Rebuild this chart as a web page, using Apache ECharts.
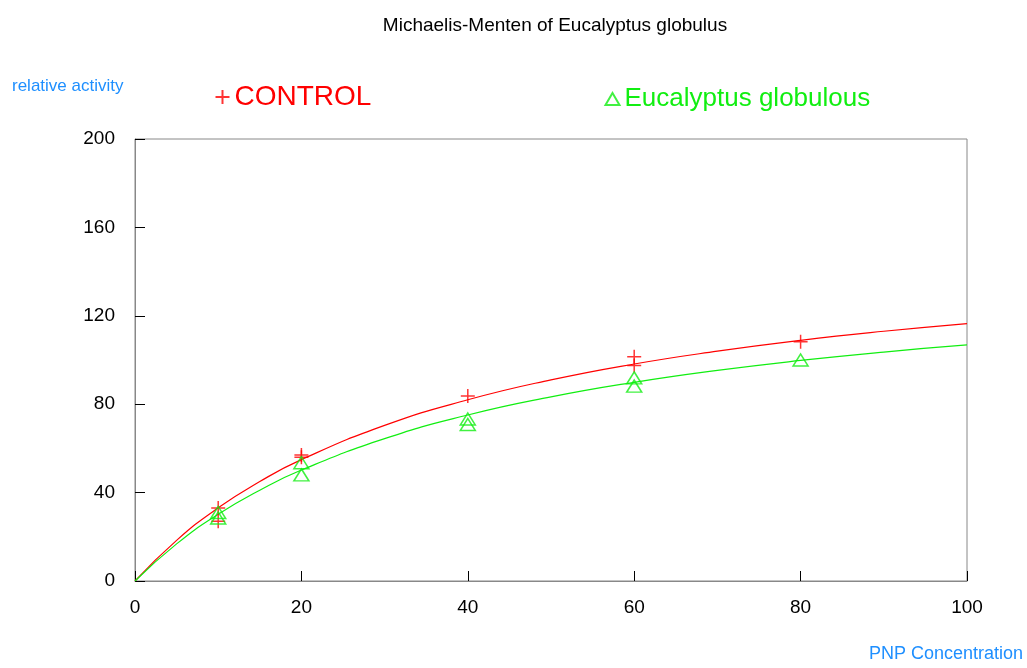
<!DOCTYPE html>
<html>
<head>
<meta charset="utf-8">
<script src="https://cdn.jsdelivr.net/npm/echarts@6/dist/echarts.min.js"></script>
<style>
	html, body { margin: 0; padding: 0; background: #fff; }
	#chart { width: 1027px; height: 668px; }
</style>
</head>
<body>
<div id="chart"></div>
<script>
// 数据
const curveX = [0, 5, 10, 15, 20, 30, 40, 50, 60, 70, 80, 90, 100];
const controlCurve = [0, 18.4, 33.1, 45, 54.9, 70.4, 82, 91, 98.2, 104, 108.9, 113, 116.5];
const eucCurve = [0, 16.8, 30.2, 41.1, 50.2, 64.4, 75.1, 83.3, 89.9, 95.3, 99.8, 103.6, 106.8];

const pointX = [10, 10, 20, 20, 40, 60, 60, 80];
const controlPoints = [33, 27, 57, 56, 83.7, 101.5, 97.5, 108.3];
const eucPointX = [10, 10, 20, 20, 40, 40, 60, 60, 80];
const eucPoints = [31, 28.5, 53.5, 48, 73.3, 70.8, 91.9, 88.2, 100];

const xTicks = [0, 20, 40, 60, 80, 100];
const yTicks = [0, 40, 80, 120, 160, 200];

const RED = "#ff0000";
const GREEN = "#11ee11";
const BLUE = "#1e8fff";
const FONT = "Liberation Sans";
const PLUS = "path://M0,5 L10,5 M5,0 L5,10";

const zip = (xs, ys) => xs.map((x, i) => [x, ys[i]]);

const chart = echarts.init(document.getElementById("chart"), null, { renderer: "canvas" });

const option = {
	animation: false,
	textStyle: { fontFamily: FONT },
	title: {
		text: "Michaelis-Menten of Eucalyptus globulus",
		left: 550,
		textAlign: "center",
		top: 11,
		textStyle: { fontSize: 19, fontWeight: "normal", color: "#000", fontFamily: FONT },
	},
	legend: [
		{
			data: [{ name: "CONTROL", icon: PLUS }],
			left: 208,
			top: 78,
			itemWidth: 14,
			itemHeight: 14,
			textStyle: { fontSize: 28, color: RED, fontFamily: FONT },
		},
		{
			data: [{ name: "Eucalyptus globulous", icon: "triangle" }],
			left: 598,
			top: 81,
			itemWidth: 14,
			itemHeight: 12,
			textStyle: { fontSize: 26, color: GREEN, fontFamily: FONT },
		},
	],
	graphic: [
		{
			type: "text",
			left: 12,
			top: 78,
			style: { text: "relative activity", fontSize: 17, fill: BLUE, fontFamily: FONT },
		},
		{
			type: "text",
			right: 4,
			top: 645,
			style: { text: "PNP Concentration", fontSize: 18, fill: BLUE, fontFamily: FONT },
		},
	],
	grid: {
		left: 135,
		right: 60,
		top: 139,
		bottom: 87,
		show: true,
		borderColor: "#888",
		borderWidth: 1,
		backgroundColor: "#fff",
	},
	xAxis: {
		type: "value",
		min: xTicks[0],
		max: xTicks[xTicks.length - 1],
		interval: 20,
		axisLine: { lineStyle: { color: "#888" } },
		axisTick: { inside: true, length: 10, lineStyle: { color: "#000" } },
		axisLabel: { color: "#000", fontSize: 19, margin: 17, fontFamily: FONT },
		splitLine: { show: false },
	},
	yAxis: {
		type: "value",
		min: yTicks[0],
		max: yTicks[yTicks.length - 1],
		interval: 40,
		axisLine: { show: true, lineStyle: { color: "#888" } },
		axisTick: { show: true, inside: true, length: 10, lineStyle: { color: "#000" } },
		axisLabel: { color: "#000", fontSize: 19, margin: 20, fontFamily: FONT },
		splitLine: { show: false },
	},
	series: [
		{
			name: "CONTROL fit",
			type: "line",
			data: zip(curveX, controlCurve),
			smooth: true,
			showSymbol: false,
			lineStyle: { color: RED, width: 1.2 },
			silent: true,
		},
		{
			name: "Eucalyptus fit",
			type: "line",
			data: zip(curveX, eucCurve),
			smooth: true,
			showSymbol: false,
			lineStyle: { color: GREEN, width: 1.2 },
			silent: true,
		},
		{
			name: "CONTROL",
			type: "scatter",
			data: zip(pointX, controlPoints),
			symbol: PLUS,
			symbolSize: 14,
			itemStyle: { color: "none", borderColor: RED, borderWidth: 1.5 },
			z: 5,
		},
		{
			name: "Eucalyptus globulous",
			type: "scatter",
			data: zip(eucPointX, eucPoints),
			symbol: "triangle",
			symbolSize: [15, 12],
			itemStyle: { color: "none", borderColor: GREEN, borderWidth: 1.5 },
			z: 5,
		},
	],
};

chart.setOption(option);
</script>
</body>
</html>
